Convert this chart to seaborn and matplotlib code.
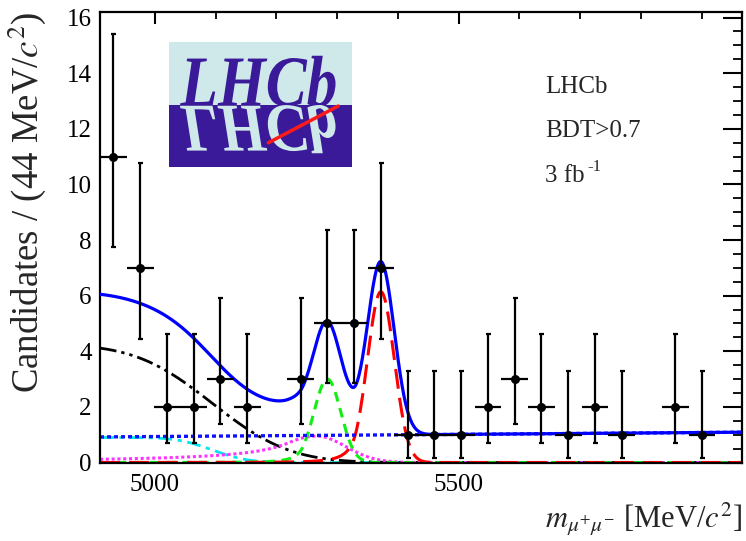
import math
import numpy as np
import pandas as pd
import matplotlib
matplotlib.use("Agg")
import matplotlib.pyplot as plt
from matplotlib.patches import Rectangle, PathPatch
from matplotlib.textpath import TextPath
from matplotlib.font_manager import FontProperties
from matplotlib.transforms import Affine2D
from matplotlib.ticker import MultipleLocator
import seaborn as sns

# ---- dimuon mass histogram (44 MeV/c^2 bins) ----
bin_lo = 4910.0
bin_width = 44.0
counts = [11, 7, 2, 2, 3, 2, 0, 3, 5, 5, 7, 1, 1, 1, 2, 3, 2, 1, 2, 1, 0, 2, 1, 0]
x_range = [4910.0, 5966.0]
y_range = [0.0, 16.2]

# ---- fit model components (candidates per bin) ----
comb_par = [0.92, 1.6e-4]                         # norm, slope
partreco_par = [4.25, 5095.0, 100.0]              # norm, edge, smearing
misid_par = [0.90, 5095.0, 46.0]                  # norm, edge, smearing
semilep_par = [0.95, 5266.0, 60.0, 48.0, 0.8, 1.2]  # norm, mean, sigL, sigR, alpha, n
bd_par = [3.0, 5284.0, 22.0]                      # norm, mean, sigma
bs_par = [6.14, 5372.0, 22.0]
cb_tail = [1.8, 3.0]                              # alpha, n

sns.set_theme(style="white")
plt.rcParams["font.family"] = ["Liberation Serif", "DejaVu Serif"]
plt.rcParams["mathtext.fontset"] = "stix"

erfc = np.vectorize(math.erfc)


def crystal_ball(m, mean, sig_l, sig_r, alpha, n):
    t = np.where(m < mean, (m - mean) / sig_l, (m - mean) / sig_r)
    a = (n / alpha) ** n * math.exp(-alpha ** 2 / 2)
    b = n / alpha - alpha
    tail = a * np.abs(b - t) ** (-n)
    return np.where(t > -alpha, np.exp(-t ** 2 / 2), tail)


m = np.linspace(x_range[0], x_range[1], 1200)
comb = comb_par[0] * np.exp(comb_par[1] * (m - x_range[0]))
partreco = partreco_par[0] * 0.5 * erfc((m - partreco_par[1]) / (math.sqrt(2) * partreco_par[2]))
misid = misid_par[0] * 0.5 * erfc((m - misid_par[1]) / (math.sqrt(2) * misid_par[2]))
semilep = semilep_par[0] * crystal_ball(m, *semilep_par[1:])
bd = bd_par[0] * crystal_ball(m, bd_par[1], bd_par[2], bd_par[2], *cb_tail)
bs = bs_par[0] * crystal_ball(m, bs_par[1], bs_par[2], bs_par[2], *cb_tail)
total = comb + partreco + misid + semilep + bd + bs

fig = plt.figure(figsize=(7.46, 5.41), dpi=100)
ax = fig.add_axes([100 / 746, 1 - 462.5 / 541, 642 / 746, 450.5 / 541])

components = [
    (misid, "#00e5ee", (0, (5, 2, 1.5, 2)), 2.0),
    (partreco, "black", (0, (6, 1.8, 1.2, 1.8, 1.2, 1.8)), 2.0),
    (semilep, "#ff33ff", (0, (1.0, 0.9)), 2.2),
    (bd, "#11ee11", (0, (3.2, 2.2)), 2.2),
    (bs, "#ff0000", (0, (6.5, 3.0)), 2.2),
    (comb, "#1010ff", (0, (1.2, 0.9)), 2.4),
]
for yv, col, ls, lw in components:
    sns.lineplot(x=m, y=yv, ax=ax, color=col, lw=lw, sort=False, estimator=None)
    ax.lines[-1].set_linestyle(ls)
    ax.lines[-1].set_zorder(2)

sns.lineplot(x=m, y=total, ax=ax, color="#0000ff", lw=2.3, sort=False, estimator=None)
ax.lines[-1].set_zorder(3)

# data points with Poisson (68%) intervals
n = np.array(counts, dtype=float)
centres = bin_lo + bin_width * (np.arange(len(counts)) + 0.5)
keep = n > 0
nk = n[keep]
lo = nk * (1 - 1 / (9 * nk) - 1 / (3 * np.sqrt(nk))) ** 3
hi = (nk + 1) * (1 - 1 / (9 * (nk + 1)) + 1 / (3 * np.sqrt(nk + 1))) ** 3
df = pd.DataFrame({"mass": centres[keep], "n": nk})
ax.errorbar(df["mass"], df["n"], yerr=[nk - lo, hi - nk], fmt="none",
            ecolor="black", elinewidth=1.6, capsize=1.8, capthick=1.6, zorder=4)
ax.errorbar(df["mass"], df["n"], xerr=bin_width / 2, fmt="none",
            ecolor="black", elinewidth=1.6, capsize=0, zorder=4)
sns.scatterplot(data=df, x="mass", y="n", ax=ax, color="black", s=42,
                edgecolor="black", linewidth=0, zorder=5)

ax.set_xlim(*x_range)
ax.set_ylim(*y_range)
ax.set_xlabel("")
ax.set_ylabel("")
ax.xaxis.set_major_locator(MultipleLocator(500))
ax.xaxis.set_minor_locator(MultipleLocator(100))
ax.yaxis.set_major_locator(MultipleLocator(2))
ax.yaxis.set_minor_locator(MultipleLocator(0.5))
for sp in ax.spines.values():
    sp.set_visible(True)
    sp.set_linewidth(1.6)
    sp.set_color("black")
ax.tick_params(axis="both", which="both", direction="in", top=True, right=True,
               colors="black", labelsize=18)
ax.tick_params(axis="y", which="major", length=13.5, width=1.5, pad=6)
ax.tick_params(axis="y", which="minor", length=6.7, width=1.3)
ax.tick_params(axis="x", which="major", length=8.6, width=1.5, pad=8)
ax.tick_params(axis="x", which="minor", length=4.8, width=1.3)

fig.text(0.036, 0.978, "Candidates / (44 MeV/$c^2$)", rotation=90,
         ha="center", va="top", fontsize=26.5)
fig.text(0.995, 0.04, r"$m_{\mu^{+}\mu^{-}}$ [MeV/$c^2$]", ha="right",
         va="center", fontsize=22)

for txt, yy in [("LHCb", 93), ("BDT>0.7", 137), ("3 fb", 182)]:
    fig.text(545 / 746, 1 - yy / 541, txt, ha="left", va="baseline", fontsize=18)
fig.text(587 / 746, 1 - 171 / 541, "-1", ha="left", va="baseline", fontsize=12)

# experiment logo
lax = fig.add_axes([169 / 746, 1 - 167 / 541, 183 / 746, 125 / 541])
lax.set_xlim(0, 1)
lax.set_ylim(0, 1)
lax.axis("off")
indigo = "#3b1a9a"
pale = "#cfe9eb"
lax.add_patch(Rectangle((0, 0.5), 1, 0.5, color=pale, lw=0))
lax.add_patch(Rectangle((0, 0), 1, 0.5, color=indigo, lw=0))
tp = TextPath((0, 0), "LHCb", size=1,
              prop=FontProperties(family="Liberation Serif", style="italic",
                                  weight="bold"))
ext = tp.get_extents()
sx = 0.85 / ext.width
sy = 0.40 / ext.y1
up = Affine2D().translate(-ext.x0, 0).scale(sx, sy).translate(0.06, 0.49)
down = Affine2D().translate(-ext.x0, 0).scale(sx, -sy * 0.95).translate(0.06, 0.49)
lax.add_patch(PathPatch(up.transform_path(tp), color=indigo, lw=0))
lax.add_patch(PathPatch(down.transform_path(tp), color=pale, lw=0))
lax.plot([0.543, 0.925], [0.194, 0.488], color="#ff1a1a", lw=2.5,
         solid_capstyle="round")

fig.savefig("out.png", dpi=100)
